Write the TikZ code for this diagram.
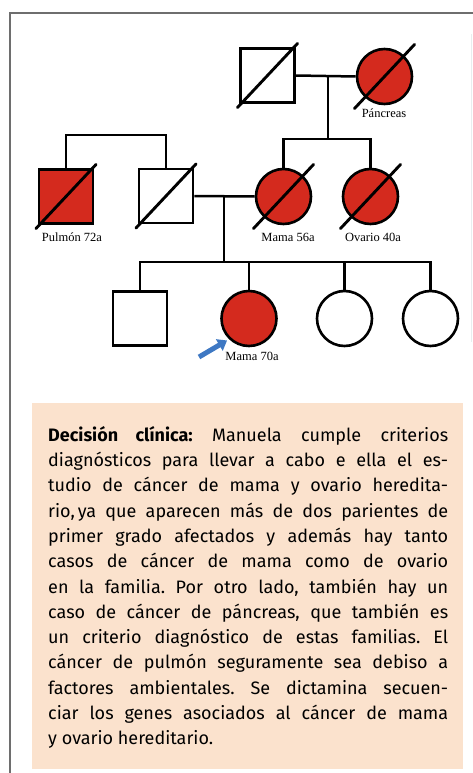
\documentclass[tikz,border=0pt]{standalone}
\usepackage{fontspec}
\setmainfont{Fira Sans}
\newfontfamily\labfont{Liberation Serif}
\usetikzlibrary{calc,arrows.meta}
\definecolor{affred}{RGB}{212,42,30}
\definecolor{peach}{RGB}{251,226,205}
\definecolor{framegray}{RGB}{110,110,110}
\definecolor{faintline}{RGB}{232,238,238}
\definecolor{arrowblue}{RGB}{62,120,195}
\begin{document}
\begin{tikzpicture}[x=1pt,y=-1pt,
  male/.style={draw,rectangle,minimum size=54pt,inner sep=0pt,line width=2.6pt,fill=white},
  female/.style={draw,circle,minimum size=55pt,inner sep=0pt,line width=2.6pt,fill=white},
  affected/.style={fill=affred},
  link/.style={line width=2.5pt},
  slash/.style={line width=2.9pt,line cap=round},
  plabel/.style={font=\labfont\fontsize{12.5}{13}\selectfont,inner sep=0pt},
  frame/.style={framegray,line width=1.4pt}]
\useasboundingbox (0,0) rectangle (473,773);
% frame
\draw[frame] (10,773) -- (10,13) -- (473,13);
\draw[faintline,line width=0.8pt] (471.5,34) -- (471.5,342);
% text box
\fill[peach] (32,403) rectangle (463,769);
\node[anchor=north west,inner sep=0pt,text width=400pt,align=justify,
  font={\fontsize{18}{25.3}\selectfont\frenchspacing}] (txt) at (48,426)
{\textbf{Decisión clínica:} Manuela cumple criterios\linebreak
diagnósticos para llevar a cabo e ella el es-\linebreak
tudio de cáncer de mama y ovario heredita-\linebreak
rio,\,ya que aparecen más de dos parientes de\linebreak
primer grado afectados y además hay tanto\linebreak
casos de cáncer de mama como de ovario\linebreak
en la familia. Por otro lado, también hay un\linebreak
caso de cáncer de páncreas, que también es\linebreak
un criterio diagnóstico de estas familias. El\linebreak
cáncer de pulmón seguramente sea debiso a\linebreak
factores ambientales. Se dictamina secuen-\linebreak
ciar los genes asociados al cáncer de mama\linebreak
y ovario hereditario.};
% generation I
\node[male] (gf) at (267.5,75.5) {};
\node[female,affected] (gm) at (384.5,76.5) {};
% generation II
\node[male,affected] (pu) at (66,196.5) {};
\node[male] (fa) at (166,196) {};
\node[female,affected] (mo) at (283.5,196.5) {};
\node[female,affected] (ov) at (370.5,196.5) {};
% generation III
\node[male] (c1) at (140,318.5) {};
\node[female,affected] (pb) at (249,318.5) {};
\node[female] (c3) at (344.5,318.5) {};
\node[female] (c4) at (430.5,318.5) {};
% coordinates
\coordinate (gd) at (328,76.5);
\coordinate (gs) at (328,139);
\coordinate (pd) at (224,196);
\coordinate (ps) at (224,262);
% connectors
\draw[link] (gf.east) -- (gm.west);
\draw[link] (gd) -- (gs);
\draw[link] (mo.north) -- (mo.north |- gs) -- (ov.north |- gs) -- (ov.north);
\draw[link] (pu.north) -- ++(0,-33) -| (fa.north);
\draw[link] (fa.east) -- (mo.west);
\draw[link] (pd) -- (ps);
\draw[link] (c1.north) -- (c1.north |- ps) -- (c4.north |- ps) -- (c4.north);
\draw[link] (pb.north) -- (pb.north |- ps);
\draw[link] (c3.north) -- (c3.north |- ps);
% slashes for deceased
\foreach \n in {gf,gm,pu,fa,mo,ov}{
  \draw[slash] ($(\n.center)+(-30,32)$) -- ($(\n.center)+(30,-32)$);}
% labels
\node[plabel] (lp) at (384,113) {Páncreas};
\node[plabel] (lpu) at (72,237) {Pulmón 72a};
\node[plabel] (lm) at (288,237) {Mama 56a};
\node[plabel] (lo) at (373,237) {Ovario 40a};
\node[plabel] (lpb) at (252,356) {Mama 70a};
% proband arrow
\coordinate (arS) at (199,357);
\draw[arrowblue,line width=5pt,-{Triangle[length=9pt,width=13pt]}] (arS) -- ($(pb.center)!0.98!(pb.south west)+(-2,2)$);
\end{tikzpicture}
\end{document}
